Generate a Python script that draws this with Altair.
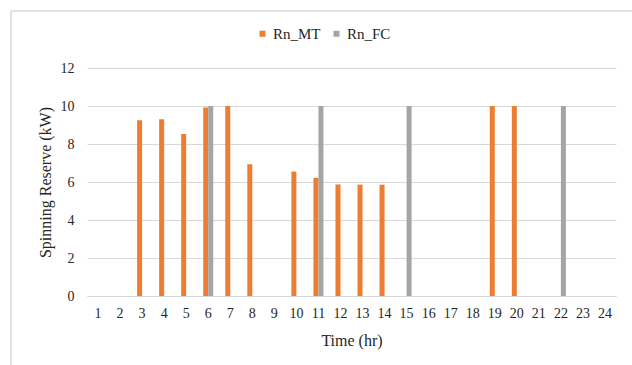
import altair as alt
import pandas as pd

hours = [str(h) for h in range(1, 25)]
rn_mt = [0, 0, 9.25, 9.3, 8.52, 9.92, 10, 6.93, 0, 6.55, 6.22, 5.87,
         5.86, 5.86, 0, 0, 0, 0, 10, 10, 0, 0, 0, 0]
rn_fc = [0, 0, 0, 0, 0, 10, 0, 0, 0, 0, 10, 0,
         0, 0, 10, 0, 0, 0, 0, 0, 0, 10, 0, 0]
series = ["Rn_MT", "Rn_FC"]
colors = ["#ED7D31", "#A5A5A5"]

rows = []
for i, h in enumerate(hours):
    rows.append({"hour": h, "series": "Rn_MT", "value": rn_mt[i]})
    rows.append({"hour": h, "series": "Rn_FC", "value": rn_fc[i]})
df = pd.DataFrame(rows)

FONT = "Liberation Serif"
TXT = "#262626"

bars = alt.Chart(df).mark_bar().encode(
    x=alt.X("hour:N", sort=hours,
            scale=alt.Scale(domain=hours, paddingInner=0.546, paddingOuter=0.273),
            axis=alt.Axis(title="Time (hr)", labelAngle=0, ticks=False, grid=False,
                          domainColor="#D9D9D9", labelPadding=10,
                          labelFont=FONT, titleFont=FONT,
                          titleY=44, titleBaseline="middle")),
    xOffset=alt.XOffset("series:N", sort=series, scale=alt.Scale(domain=series)),
    y=alt.Y("value:Q", scale=alt.Scale(domain=[0, 12]),
            axis=alt.Axis(title="Spinning Reserve (kW)", values=[0, 2, 4, 6, 8, 10, 12],
                          domain=False, ticks=False, labelPadding=13,
                          gridColor="#D9D9D9", labelFont=FONT, titleFont=FONT,
                          titleX=-42, titleY=114, titleAngle=-90,
                          titleAlign="center", titleBaseline="middle")),
    color=alt.Color("series:N", sort=series,
                    scale=alt.Scale(domain=series, range=colors),
                    legend=alt.Legend(title=None, orient="none", direction="horizontal",
                                      legendX=168, legendY=-42, symbolType="square",
                                      symbolSize=36, symbolStrokeWidth=0,
                                      columnPadding=8, labelOffset=3, labelFontSize=15,
                                      labelFont=FONT, labelColor=TXT, symbolOffset=0)),
)

frame = alt.Chart(pd.DataFrame({"a": [0]})).mark_rect(
    filled=False, stroke="#D9D9D9", strokeWidth=1.5
).encode(x=alt.value(-76), x2=alt.value(600), y=alt.value(-57), y2=alt.value(330))

chart = alt.layer(frame, bars).properties(
    width=529, height=228,
    background="white",
    autosize=alt.AutoSizeParams(type="none"),
    padding={"left": 87, "top": 68, "right": 16, "bottom": 69},
).configure(font=FONT).configure_view(stroke=None).configure_axis(
    labelFont=FONT, titleFont=FONT, labelFontSize=14, titleFontSize=16,
    labelColor=TXT, titleColor=TXT, titleFontWeight="normal",
).configure_legend(labelFont=FONT)

chart.save("out.html", embed_options={"renderer": "svg", "actions": False})
